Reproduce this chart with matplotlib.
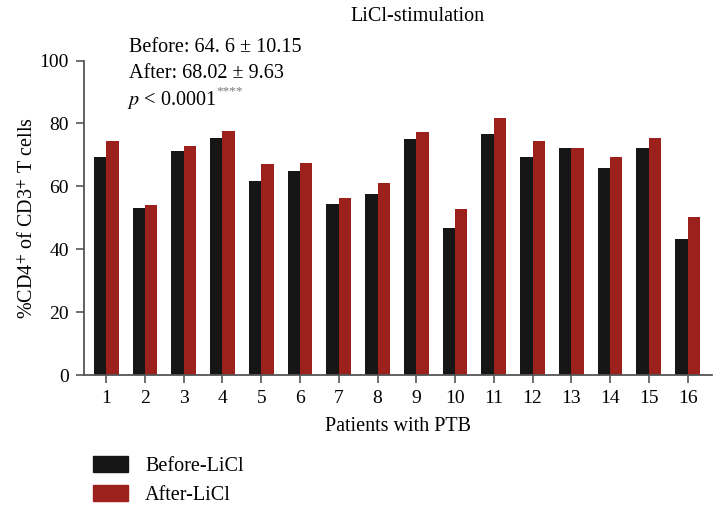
import numpy as np
import matplotlib.pyplot as plt
from matplotlib.patches import Patch

patients = np.arange(1, 17)
before = [69.4, 53.1, 71.3, 75.4, 61.7, 64.9, 54.4, 57.6,
          75.1, 46.8, 76.7, 69.4, 72.2, 65.9, 72.2, 43.3]
after = [74.4, 54.1, 72.9, 77.6, 67.1, 67.4, 56.3, 61.1,
         77.3, 52.8, 81.8, 74.4, 72.2, 69.4, 75.4, 50.3]

black = '#161616'
red = '#9c211c'
axis_col = '#555555'

plt.rcParams['font.family'] = ['Liberation Serif', 'DejaVu Serif']
plt.rcParams['mathtext.fontset'] = 'stix'

fig = plt.figure(figsize=(7.13, 5.13), dpi=100)
ax = fig.add_axes([0.118, 0.269, 0.88, 0.613])

w = 0.32
ax.bar(patients - w / 2, before, width=w, color=black, label='Before-LiCl')
ax.bar(patients + w / 2, after, width=w, color=red, label='After-LiCl')

ax.set_xlim(0.43, 16.62)
ax.set_ylim(0, 100)
ax.set_xticks(patients)
ax.set_yticks([0, 20, 40, 60, 80, 100])
ax.tick_params(labelsize=14, direction='out', length=6, width=1.2, color=axis_col, pad=5)
for s in ['top', 'right']:
    ax.spines[s].set_visible(False)
for s in ['left', 'bottom']:
    ax.spines[s].set_color(axis_col)
    ax.spines[s].set_linewidth(1.3)

ax.set_xlabel('Patients with PTB', fontsize=14.5, labelpad=7)
ax.set_ylabel('%CD4$^{+}$ of CD3$^{+}$ T cells', fontsize=14.5, labelpad=1)

fig.text(0.585, 0.968, 'LiCl-stimulation', fontsize=14.5, ha='center', va='center')
fig.text(0.181, 0.907, 'Before: 64. 6 \u00b1 10.15', fontsize=14.5, va='center')
fig.text(0.181, 0.857, 'After: 68.02 \u00b1 9.63', fontsize=14.5, va='center')
fig.text(0.178, 0.806, '$p$ < 0.0001', fontsize=14.5, va='center')
fig.text(0.304, 0.822, '****', fontsize=9.5, va='center', color='#777777')

handles = [Patch(color=black, label='Before-LiCl'), Patch(color=red, label='After-LiCl')]
fig.legend(handles=handles, loc='upper left', bbox_to_anchor=(0.13, 0.112),
           frameon=False, fontsize=14.5, handlelength=1.75, handleheight=0.85,
           handletextpad=0.85, labelspacing=0.45, borderaxespad=0, borderpad=0)

fig.savefig('out.png', dpi=100)
